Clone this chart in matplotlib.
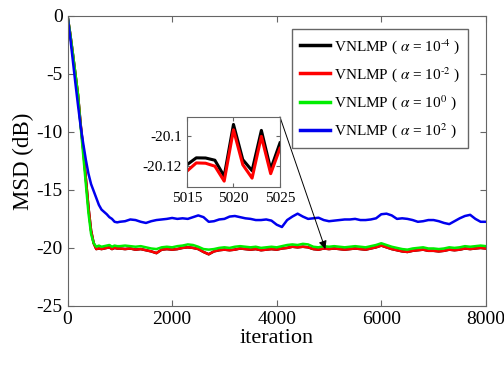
import numpy as np
import matplotlib
matplotlib.use('Agg')
import matplotlib.pyplot as plt

plt.rcParams['font.family'] = ['Liberation Serif', 'DejaVu Serif']
plt.rcParams['mathtext.fontset'] = 'stix'
plt.rcParams['axes.unicode_minus'] = False

# iteration grid (finer during the transient)
iteration = np.concatenate([np.arange(0, 1000, 50), np.arange(1000, 8001, 100)])

# MSD (dB)
blue_msd = [0, -1.8, -3.8, -5.8, -7.7, -9.5, -11.0, -12.4, -13.6, -14.5,
            -15.1, -15.7, -16.3, -16.7, -16.9, -17.1, -17.35, -17.5, -17.75, -17.8,
            -17.75, -17.7, -17.55, -17.6, -17.75, -17.85, -17.7, -17.6, -17.55, -17.5,
            -17.42, -17.5, -17.45, -17.5, -17.35, -17.2, -17.35, -17.75, -17.7, -17.55,
            -17.5, -17.3, -17.25, -17.35, -17.45, -17.5, -17.6, -17.6, -17.55, -17.65,
            -18.0, -18.2, -17.6, -17.3, -17.05, -17.3, -17.5, -17.45, -17.4, -17.6,
            -17.7, -17.65, -17.6, -17.55, -17.55, -17.5, -17.6, -17.6, -17.55, -17.45,
            -17.1, -17.05, -17.2, -17.5, -17.45, -17.5, -17.6, -17.75, -17.7, -17.6,
            -17.6, -17.7, -17.85, -17.95, -17.7, -17.45, -17.25, -17.15, -17.5, -17.75,
            -17.75]
green_msd = [0, -1.5, -3.2, -5.0, -6.8, -9.5, -12.0, -14.5, -17.0, -18.8,
             -19.6, -19.9, -19.8, -19.9, -19.85, -19.8, -19.75, -19.9, -19.8, -19.85,
             -19.85, -19.8, -19.85, -19.9, -19.85, -19.95, -20.05, -20.1, -19.95, -19.9,
             -19.95, -19.85, -19.8, -19.7, -19.75, -19.9, -20.1, -20.15, -20.1, -20.0,
             -19.95, -20.0, -19.9, -19.85, -19.9, -19.95, -19.9, -20.0, -19.95, -19.9,
             -19.95, -19.85, -19.75, -19.7, -19.75, -19.65, -19.7, -19.9, -19.95, -19.85,
             -19.9, -19.85, -19.9, -19.95, -19.9, -19.85, -19.9, -19.95, -19.85, -19.75,
             -19.6, -19.75, -19.9, -20.0, -20.1, -20.15, -20.05, -20.0, -19.95, -20.05,
             -20.05, -20.1, -20.05, -19.95, -20.0, -19.95, -19.85, -19.9, -19.85, -19.8,
             -19.85]
red_msd = [0, -1.5, -3.2, -5.0, -6.8, -9.3, -11.5, -14.0, -16.5, -18.5,
           -19.6, -20.1, -20.05, -20.1, -20.05, -20.0, -19.95, -20.1, -20.0, -20.05,
           -20.05, -20.1, -20.05, -20.15, -20.1, -20.2, -20.3, -20.45, -20.15, -20.1,
           -20.15, -20.1, -20.0, -19.95, -20.0, -20.1, -20.35, -20.55, -20.3, -20.2,
           -20.15, -20.2, -20.15, -20.05, -20.1, -20.15, -20.1, -20.2, -20.15, -20.1,
           -20.15, -20.05, -20.0, -19.9, -19.95, -19.9, -19.95, -20.1, -20.15, -20.05,
           -20.1, -20.05, -20.1, -20.15, -20.1, -20.05, -20.1, -20.15, -20.05, -19.95,
           -19.8, -19.95, -20.1, -20.2, -20.3, -20.35, -20.25, -20.2, -20.15, -20.25,
           -20.25, -20.3, -20.25, -20.15, -20.2, -20.15, -20.05, -20.1, -20.05, -20.0,
           -20.05]
black_msd = red_msd  # black is indistinguishable from red at this scale

# zoomed window
zoom_iter = [5015, 5016, 5017, 5018, 5019, 5020, 5021, 5022, 5023, 5024, 5025]
zoom_black = [-20.119, -20.1144, -20.1145, -20.116, -20.1267, -20.092, -20.1156,
              -20.123, -20.096, -20.122, -20.1044]
zoom_red = [-20.1233, -20.1178, -20.118, -20.12, -20.13, -20.0956, -20.119,
            -20.128, -20.100, -20.125, -20.108]

labels = [r'VNLMP ( $\alpha$ = 10$^{\text{-}4}$ )', r'VNLMP ( $\alpha$ = 10$^{\text{-}2}$ )',
          r'VNLMP ( $\alpha$ = 10$^{0}$ )', r'VNLMP ( $\alpha$ = 10$^{2}$ )']

axcol = '0.4'

fig = plt.figure(figsize=(5.04, 3.69), dpi=100)
ax = fig.add_axes([0.134, 0.171, 0.830, 0.786])
ax.plot(iteration, black_msd, color='k', lw=1.8, label=labels[0])
ax.plot(iteration, red_msd, color='r', lw=1.8, label=labels[1])
ax.plot(iteration, green_msd, color='#00ee00', lw=1.8, label=labels[2])
ax.plot(iteration, blue_msd, color='#0000ee', lw=1.8, label=labels[3])
ax.set_xlim(0, 8000)
ax.set_ylim(-25, 0)
ax.set_xticks([0, 2000, 4000, 6000, 8000])
ax.set_yticks([-25, -20, -15, -10, -5, 0])
ax.tick_params(direction='in', top=True, right=True, labelsize=14, color=axcol, length=4)
for s in ax.spines.values():
    s.set_color(axcol)
ax.set_xlabel('iteration', fontsize=16, labelpad=1)
ax.set_ylabel('MSD (dB)', fontsize=16.5, labelpad=2)

leg = ax.legend(loc='upper right', bbox_to_anchor=(0.975, 0.98), fontsize=11,
                handlelength=2.0, labelspacing=0.6, handletextpad=0.25,
                fancybox=False, framealpha=1, borderpad=0.5)
leg.get_frame().set_edgecolor(axcol)
leg.get_frame().set_linewidth(1.0)
for h in leg.get_lines():
    h.set_linewidth(2.5)

# inset
axin = fig.add_axes([0.371, 0.493, 0.1845, 0.19])
axin.plot(zoom_iter, zoom_black, color='k', lw=2.2)
axin.plot(zoom_iter, zoom_red, color='r', lw=2.2)
axin.set_xlim(5015, 5025)
axin.set_ylim(-20.134, -20.087)
axin.set_xticks([5015, 5020, 5025])
axin.set_yticks([-20.12, -20.1])
axin.set_yticklabels(['-20.12', '-20.1'])
axin.tick_params(direction='in', top=True, right=True, labelsize=11, color=axcol, length=3)
for s in axin.spines.values():
    s.set_color(axcol)

ax.annotate('', xy=(4930, -20.1), xycoords='data',
            xytext=(1.0, 1.0), textcoords=axin.transAxes,
            arrowprops=dict(arrowstyle='-|>', color='k', lw=0.7,
                            mutation_scale=12, shrinkA=0, shrinkB=0))

fig.savefig('out.png', dpi=100)
